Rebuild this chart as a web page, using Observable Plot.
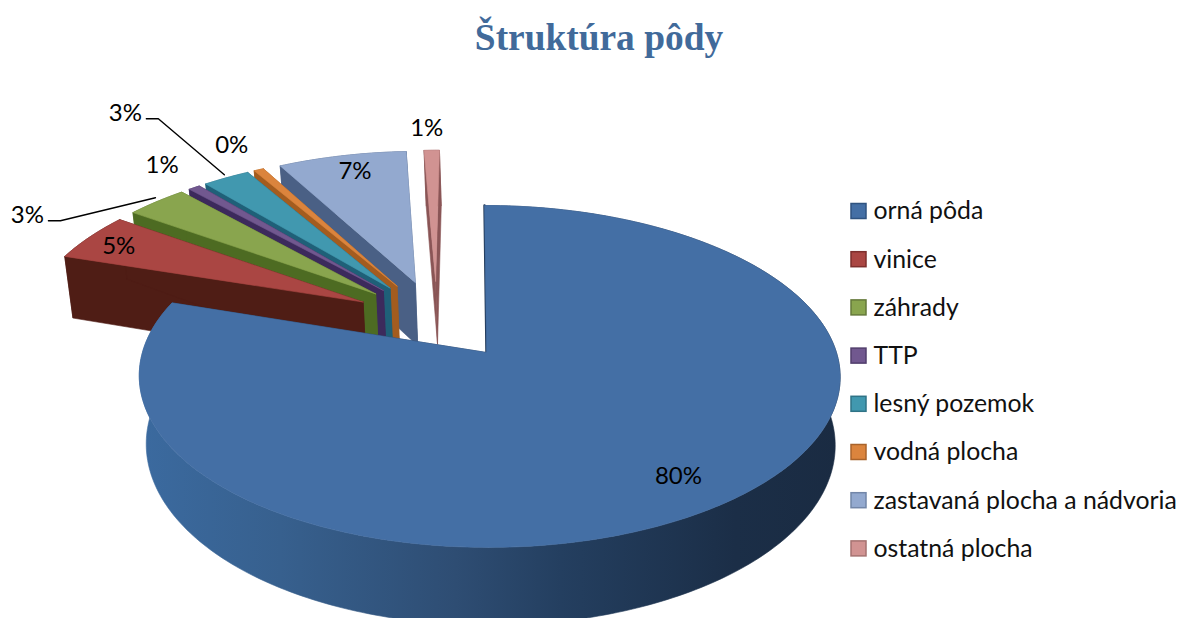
<!DOCTYPE html>
<html lang="sk">
<head>
<meta charset="utf-8">
<script src="https://cdn.jsdelivr.net/npm/d3@7"></script>
<script src="https://cdn.jsdelivr.net/npm/@observablehq/plot@0.6"></script>
<style>
html,body{margin:0;padding:0;background:#fff;overflow:hidden}
#chart{position:relative;width:1179px;height:618px}
h1{margin:0;height:70px;text-align:center;font:bold 37.4px/76px "Liberation Serif",serif;color:#416a9a;padding-left:19px;box-sizing:border-box;width:1179px}
svg{display:block}
</style>
</head>
<body>
<div id="chart"><h1 id="title"></h1></div>
<script>
// ---- data ----
const titleText = "Štruktúra pôdy";
const categories = ["orná pôda","vinice","záhrady","TTP","lesný pozemok","vodná plocha","zastavaná plocha a nádvoria","ostatná plocha"];
const shares = [80, 4.8, 3.4, 0.65, 2.6, 0.55, 7.15, 0.85];
const shareLabels = ["80%","5%","3%","1%","3%","0%","7%","1%"];

// ---- styles and layout ----
const topColors  = ["#446fa5","#aa4643","#89a54e","#71588f","#4198af","#db843d","#93a9cf","#d19392"];
const wallColors = ["#1d3350","#4f1d15","#4d6b22","#3c2a5c","#1f6078","#a35c1f","#4a6085","#8a5556"];
const legendBorders = ["#2f5380","#7d2f2d","#64793a","#513e6c","#2f7386","#a9632b","#7286a8","#a57270"];
const labelNudge = [[-39,-29],[29,9],[-129,14],[-32,-22],[-101,-64],[-27,-24],[13,15],[-5,-22]];
const leaders = [null,null,[[-108,19],[-96,19],[-1,-4]],null,[[-80,-59],[-68,-59],[-2,-3]],null,null,null];
const paintOrder = [7,6,5,4,3,2,1,0];

const apexX = 486, apexY = 352;  // pie axis on the page
const radX = 346, radY = 167.6;  // disc radii
const persp = 0.14;              // foreshortening of the disc
const explode = 0.25;            // slice explosion
const depth = 67;                // wall height
const vanishX = 548, vanishS = 0.983; // walls narrow toward this x
const legendX = 851, legendY0 = 211, legendStep = 48.2, swatch = 15, legendTextX = 873;

// ---- geometry: every slice is derived from its share ----
const rad = d => d * Math.PI / 180;
const dir = b => [Math.sin(rad(b)), Math.cos(rad(b))];
function project([X, Y]) {
  const w = 1 + persp * Y;
  return [apexX + radX * X / w - 2 * Y, apexY - radY * Y / w];
}
function lower([X, Y]) {
  const [x, y] = project([X, Y]);
  const w = 1 + persp * Y;
  return [vanishX + vanishS * (x - vanishX), y + depth / w];
}
const total = d3.sum(shares);
let acc = 0;
const mainMid = (shares[0] / 2) / total * 360;
const slices = shares.map((v, i) => {
  const a0 = acc / total * 360; acc += v;
  const a1 = acc / total * 360;
  const mid = (a0 + a1) / 2;
  const [dx, dy] = dir(mid), [mx, my] = dir(mainMid);
  const apex = [explode * (dx - mx), explode * (dy - my)];
  const n = Math.max(2, Math.ceil(a1 - a0));
  const rim = d3.range(n + 1).map(k => {
    const [sx, sy] = dir(a0 + (a1 - a0) * k / n);
    // the large slice sits very slightly to the right of its axis
    const bow = i === 0 ? 0.0085 * sx * sx + 0.0029 * sx : 0;
    return [apex[0] + sx + bow, apex[1] + sy];
  });
  return {i, a0, a1, mid, apex, rim, outer: project([apex[0] + dx, apex[1] + dy])};
});

const poly = (pts, fill, stroke, sw) => Plot.line(pts.concat([pts[0]]), {
  x: d => d[0], y: d => d[1], fill, stroke: stroke || fill, strokeWidth: sw || 0.6, curve: "linear"
});

const marks = [];
for (const idx of paintOrder) {
  const s = slices[idx];
  const wall = wallColors[idx];
  const rimWall = idx === 0 ? "url(#mainWall)" : wall;
  marks.push(poly(s.rim.map(project).concat(s.rim.slice().reverse().map(lower)), rimWall));
  [s.rim[0], s.rim[s.rim.length - 1]].forEach((edge, e) => {
    marks.push(poly([project(s.apex), project(edge), lower(edge), lower(s.apex)], wall, wall, idx === 0 && e === 0 ? 2.4 : 0.6));
  });
  marks.push(poly([project(s.apex), ...s.rim.map(project)], topColors[idx]));
}
// leader lines
slices.forEach((s, i) => {
  if (leaders[i]) marks.push(Plot.line(leaders[i].map(o => [s.outer[0] + o[0], s.outer[1] + o[1]]), {
    x: d => d[0], y: d => d[1], stroke: "#000", strokeWidth: 1.4, curve: "linear"
  }));
});
// data labels
const labelRows = slices.map((s, i) => ({
  t: shareLabels[i], x: s.outer[0] + labelNudge[i][0], y: s.outer[1] + labelNudge[i][1]
}));
marks.push(Plot.text(labelRows, {x: "x", y: "y", text: "t", fontSize: 24, fill: "#000", fontFamily: "Lato", textAnchor: "middle"}));
// legend
const legendRows = categories.map((c, i) => ({c, i, yc: legendY0 + legendStep * i}));
marks.push(Plot.rect(legendRows, {
  x1: () => legendX, x2: () => legendX + swatch,
  y1: d => d.yc - swatch / 2, y2: d => d.yc + swatch / 2,
  fill: "c", stroke: {value: d => legendBorders[d.i], scale: null}, strokeWidth: 1.5
}));
marks.push(Plot.text(legendRows, {
  x: () => legendTextX, y: "yc", text: "c", textAnchor: "start",
  fontSize: 24.8, fontFamily: "Lato", fill: "#111"
}));

document.getElementById("title").textContent = titleText;
const svg = Plot.plot({
  width: 1179, height: 548, margin: 0,
  x: {domain: [0, 1179], range: [0, 1179], axis: null},
  y: {domain: [70, 618], range: [0, 548], axis: null},
  color: {domain: categories, range: topColors},
  style: {background: "transparent", overflow: "hidden"},
  marks
});
const defs = d3.select(svg).insert("defs", ":first-child");
const g = defs.append("linearGradient").attr("id", "mainWall")
  .attr("gradientUnits", "userSpaceOnUse")
  .attr("x1", 140).attr("x2", 840).attr("y1", 0).attr("y2", 0);
[[0,"#3b6a9f"],[0.2,"#37608e"],[0.45,"#2e4d73"],[0.6,"#243f60"],[0.85,"#1b2e47"],[1,"#1a2b42"]]
  .forEach(([o, c]) => g.append("stop").attr("offset", o).attr("stop-color", c));
document.getElementById("chart").appendChild(svg);
</script>
</body>
</html>
